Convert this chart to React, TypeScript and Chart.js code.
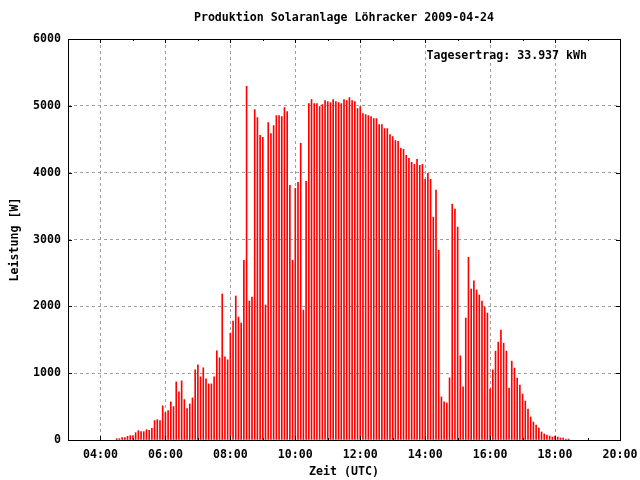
import React, { useEffect, useRef } from "react";
import { Chart, registerables } from "chart.js";

Chart.register(...registerables);

// ---- Data ----
const times: string[] = [
  "04:30", "04:35", "04:40", "04:45", "04:50", "04:55", "05:00", "05:05", "05:10", "05:15", "05:20", "05:25",
  "05:30", "05:35", "05:40", "05:45", "05:50", "05:55", "06:00", "06:05", "06:10", "06:15", "06:20", "06:25",
  "06:30", "06:35", "06:40", "06:45", "06:50", "06:55", "07:00", "07:05", "07:10", "07:15", "07:20", "07:25",
  "07:30", "07:35", "07:40", "07:45", "07:50", "07:55", "08:00", "08:05", "08:10", "08:15", "08:20", "08:25",
  "08:30", "08:35", "08:40", "08:45", "08:50", "08:55", "09:00", "09:05", "09:10", "09:15", "09:20", "09:25",
  "09:30", "09:35", "09:40", "09:45", "09:50", "09:55", "10:00", "10:05", "10:10", "10:15", "10:20", "10:25",
  "10:30", "10:35", "10:40", "10:45", "10:50", "10:55", "11:00", "11:05", "11:10", "11:15", "11:20", "11:25",
  "11:30", "11:35", "11:40", "11:45", "11:50", "11:55", "12:00", "12:05", "12:10", "12:15", "12:20", "12:25",
  "12:30", "12:35", "12:40", "12:45", "12:50", "12:55", "13:00", "13:05", "13:10", "13:15", "13:20", "13:25",
  "13:30", "13:35", "13:40", "13:45", "13:50", "13:55", "14:00", "14:05", "14:10", "14:15", "14:20", "14:25",
  "14:30", "14:35", "14:40", "14:45", "14:50", "14:55", "15:00", "15:05", "15:10", "15:15", "15:20", "15:25",
  "15:30", "15:35", "15:40", "15:45", "15:50", "15:55", "16:00", "16:05", "16:10", "16:15", "16:20", "16:25",
  "16:30", "16:35", "16:40", "16:45", "16:50", "16:55", "17:00", "17:05", "17:10", "17:15", "17:20", "17:25",
  "17:30", "17:35", "17:40", "17:45", "17:50", "17:55", "18:00", "18:05", "18:10", "18:15", "18:20", "18:25",
];

const power: number[] = [
  20, 20, 35, 35, 55, 65, 65, 110, 140, 125, 125, 155,
  145, 175, 290, 305, 290, 510, 410, 440, 570, 500, 870, 720,
  885, 605, 470, 540, 630, 1050, 1125, 945, 1080, 915, 840, 840,
  945, 1335, 1230, 2185, 1245, 1200, 1600, 1780, 2155, 1840, 1750, 2690,
  5290, 2080, 2140, 4945, 4825, 4560, 4530, 2020, 4750, 4585, 4705, 4855,
  4855, 4840, 4975, 4915, 3810, 2690, 3765, 3855, 4440, 1945, 3870, 5035,
  5095, 5035, 5035, 4990, 5020, 5080, 5065, 5050, 5095, 5065, 5050, 5035,
  5095, 5080, 5125, 5080, 5065, 4960, 4990, 4885, 4870, 4855, 4840, 4810,
  4810, 4720, 4720, 4660, 4660, 4570, 4540, 4480, 4470, 4365, 4350, 4260,
  4215, 4155, 4125, 4200, 4110, 4125, 3900, 3990, 3900, 3335, 3740, 2840,
  645, 570, 555, 930, 3530, 3455, 3185, 1260, 795, 1825, 2735, 2260,
  2380, 2245, 2170, 2080, 1990, 1900, 765, 1050, 1330, 1465, 1645, 1450,
  1330, 778, 1180, 1076, 926, 822, 688, 583, 464, 344, 269, 224,
  180, 120, 90, 75, 60, 45, 60, 45, 30, 30, 15, 15,
];

const xTickHours: number[] = [4, 6, 8, 10, 12, 14, 16, 18, 20];
const yTickValues: number[] = [0, 1000, 2000, 3000, 4000, 5000, 6000];

const titleText = "Produktion Solaranlage Löhracker 2009-04-24";
const yieldText = "Tagesertrag: 33.937 kWh";
const xTitleText = "Zeit (UTC)";
const yTitleText = "Leistung [W]";

const FONT_FAMILY = "'DejaVu Sans Mono', 'Liberation Mono', monospace";
const FONT_SIZE = 11.6;

function toHours(t: string): number {
  const [h, m] = t.split(":").map(Number);
  return h + m / 60;
}
function pad2(n: number): string {
  return n < 10 ? "0" + n : String(n);
}
function fmtHour(v: number): string {
  const h = Math.floor(v);
  const m = Math.round((v - h) * 60);
  return pad2(h) + ":" + pad2(m);
}

const decorPlugin = {
  id: "decor",
  afterDatasetsDraw(chart: any) {
    const { ctx, chartArea: a, scales } = chart;
    ctx.save();
    ctx.strokeStyle = "#000";
    ctx.lineWidth = 1;
    ctx.beginPath();
    for (let h = 4; h < 20; h++) {
      const x = Math.round(scales.x.getPixelForValue(h)) + 0.5;
      const len = h % 2 === 0 ? 4 : 2;
      ctx.moveTo(x, a.bottom);
      ctx.lineTo(x, a.bottom - len);
      ctx.moveTo(x, a.top);
      ctx.lineTo(x, a.top + len);
    }
    for (const v of yTickValues) {
      const y = Math.round(scales.y.getPixelForValue(v)) + 0.5;
      ctx.moveTo(a.left, y);
      ctx.lineTo(a.left + 4, y);
      ctx.moveTo(a.right, y);
      ctx.lineTo(a.right - 4, y);
    }
    ctx.stroke();
    ctx.strokeRect(a.left + 0.5, a.top + 0.5, a.right - a.left, a.bottom - a.top);
    ctx.restore();
  },
  afterDraw(chart: any) {
    const { ctx, chartArea: a } = chart;
    ctx.save();
    ctx.fillStyle = "#000";
    ctx.font = `bold ${FONT_SIZE}px ${FONT_FAMILY}`;
    ctx.textBaseline = "middle";
    const cx = (a.left + a.right) / 2;
    ctx.textAlign = "center";
    ctx.fillText(titleText, cx, 18);
    ctx.fillText(xTitleText, cx, 472);
    ctx.textAlign = "right";
    ctx.fillText(yieldText, 587, 56);
    ctx.translate(15, (a.top + a.bottom) / 2);
    ctx.rotate(-Math.PI / 2);
    ctx.textAlign = "center";
    ctx.fillText(yTitleText, 0, 0);
    ctx.restore();
  },
};

export default function App() {
  const canvasRef = useRef<HTMLCanvasElement | null>(null);

  useEffect(() => {
    if (!canvasRef.current) return;
    const points = times.map((t, i) => ({ x: toHours(t), y: power[i] }));
    const tickFont = { family: FONT_FAMILY, size: FONT_SIZE, weight: "bold" as const };
    const chart = new Chart(canvasRef.current, {
      type: "bar",
      data: {
        datasets: [
          {
            label: "Leistung",
            data: points as any,
            backgroundColor: "#ff0000",
            borderWidth: 0,
            barThickness: 1,
            grouped: false,
          } as any,
        ],
      },
      options: {
        animation: false,
        responsive: false,
        devicePixelRatio: 1,
        layout: { padding: { left: 0, right: 20, top: 39, bottom: 0 } },
        plugins: {
          legend: { display: false },
          tooltip: { enabled: false },
          title: { display: false },
        },
        scales: {
          x: {
            type: "linear",
            min: 3,
            max: 20,
            offset: false,
            afterBuildTicks: (scale: any) => {
              scale.ticks = xTickHours.map((v) => ({ value: v }));
            },
            afterFit: (scale: any) => {
              scale.height = 40;
              scale.paddingLeft = 0;
              scale.paddingRight = 0;
            },
            ticks: {
              autoSkip: false,
              maxRotation: 0,
              padding: 8,
              color: "#000",
              font: tickFont,
              callback: (v: any) => fmtHour(Number(v)),
            },
            grid: {
              color: "#a0a0a0",
              lineWidth: 1,
              offset: false,
              drawTicks: false,
              borderDash: [3, 3],
            } as any,
            border: { display: false, dash: [3, 3] },
          },
          y: {
            type: "linear",
            min: 0,
            max: 6000,
            afterBuildTicks: (scale: any) => {
              scale.ticks = yTickValues.map((v) => ({ value: v }));
            },
            afterFit: (scale: any) => {
              scale.width = 68;
              scale.paddingTop = 0;
              scale.paddingBottom = 0;
            },
            ticks: {
              padding: 7,
              color: "#000",
              font: tickFont,
              callback: (v: any) => String(v),
            },
            grid: {
              color: "#a0a0a0",
              lineWidth: 1,
              drawTicks: false,
              borderDash: [3, 3],
            } as any,
            border: { display: false, dash: [3, 3] },
          },
        },
      },
      plugins: [decorPlugin],
    });
    return () => chart.destroy();
  }, []);

  return (
    <div style={{ position: "absolute", left: 0, top: 0, width: 640, height: 480, background: "#fff" }}>
      <canvas ref={canvasRef} width={640} height={480} style={{ width: 640, height: 480, display: "block" }} />
    </div>
  );
}
